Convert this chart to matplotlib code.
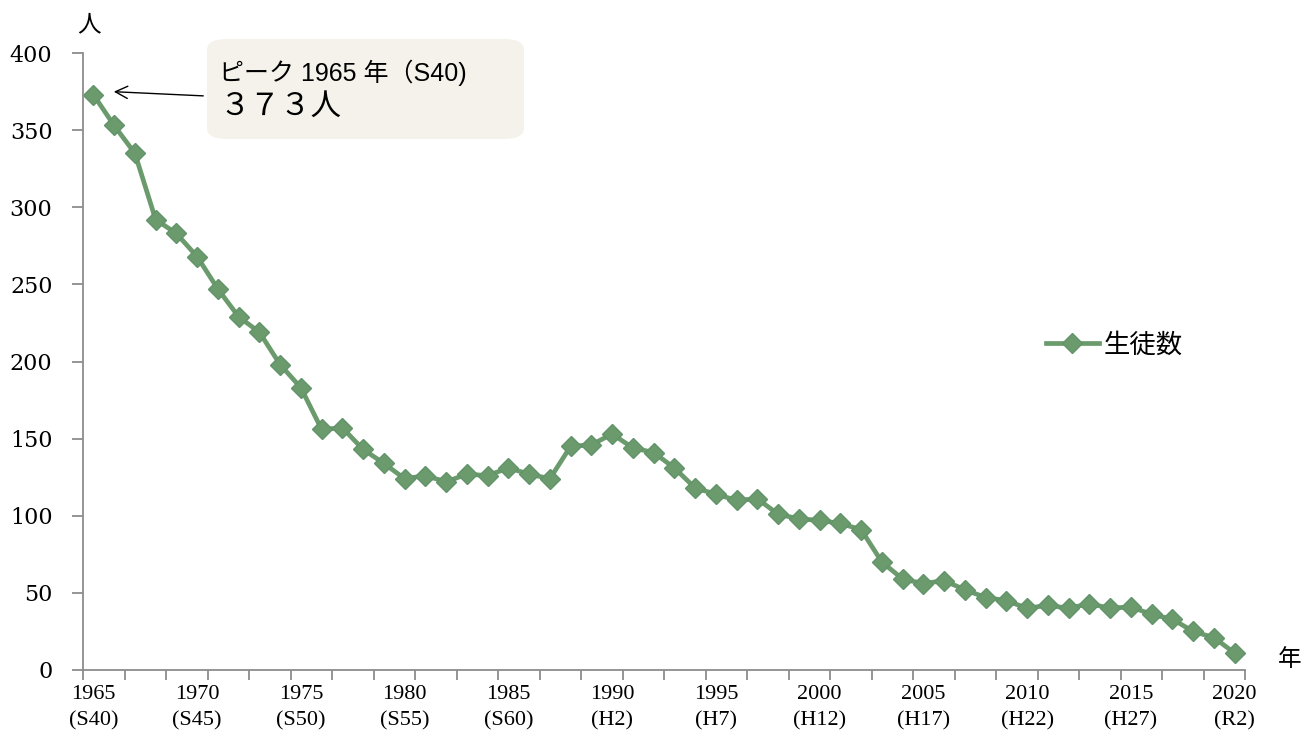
import matplotlib
matplotlib.use("Agg")
import matplotlib.pyplot as plt
from matplotlib.patches import FancyBboxPatch
import numpy as np

plt.rcParams['font.family'] = ['Liberation Sans', 'Noto Sans CJK JP', 'DejaVu Sans']

# students per year, 1965 (S40) .. 2020 (R2)
years = list(range(1965, 2021))
students = [373, 353, 335, 292, 283, 268, 247, 229, 219, 198,
            183, 156, 157, 143, 134, 124, 126, 122, 127, 126,
            131, 127, 124, 145, 146, 153, 144, 141, 131, 118,
            114, 110, 111, 101, 98, 97, 95, 91, 70, 59,
            56, 58, 52, 47, 45, 40, 42, 40, 43, 40,
            41, 36, 33, 25, 21, 11]

label_years = [1965, 1970, 1975, 1980, 1985, 1990, 1995, 2000, 2005, 2010, 2015, 2020]
era_labels = ["S40", "S45", "S50", "S55", "S60", "H2", "H7", "H12", "H17", "H22", "H27", "R2"]

green = "#6b9b6d"
axis_gray = "#8c8c8c"

fig = plt.figure(figsize=(13.04, 7.36), dpi=100)
ax = fig.add_axes([83 / 1304, 1 - 670 / 736, (1245 - 83) / 1304, (670 - 53) / 736])

ax.plot(years, students, color=green, lw=3.4, marker="D", markersize=10,
        markerfacecolor=green, markeredgecolor="#62936a", label="生徒数")

ax.set_xlim(1964.5, 2020.5)
ax.set_ylim(0, 400)

for s in ["top", "right"]:
    ax.spines[s].set_visible(False)
for s in ["left", "bottom"]:
    ax.spines[s].set_color(axis_gray)
    ax.spines[s].set_linewidth(1.3)

ax.set_yticks(np.arange(0, 401, 50))
ax.tick_params(axis="y", direction="out", length=8, width=1.3, color=axis_gray, pad=14)
for t in ax.get_yticklabels():
    t.set_family("DejaVu Serif")
    t.set_fontsize(16)

# tick marks between categories, every 2 years
ax.set_xticks(np.arange(1964.5, 2021, 2), minor=True)
ax.tick_params(axis="x", which="minor", direction="out", length=7, width=1.3, color=axis_gray)
ax.set_xticks(label_years)
ax.set_xticklabels([f"{y}\n({e})" for y, e in zip(label_years, era_labels)],
                   family=["Liberation Serif", "Noto Sans CJK JP"], fontsize=16,
                   linespacing=1.5)
ax.tick_params(axis="x", which="major", length=0, pad=11)

fig.text(89 / 1304, 1 - 25 / 736, "人", fontsize=17, ha="center", va="center",
         family=["Noto Sans CJK JP"])
fig.text(1290 / 1304, 1 - 660 / 736, "年", fontsize=17, ha="center", va="center",
         family=["Noto Sans CJK JP"])

# peak callout
box = FancyBboxPatch((207 / 1304, 1 - 139 / 736), (524 - 207) / 1304, (139 - 39) / 736,
                     boxstyle="round,pad=0,rounding_size=0.015", transform=fig.transFigure,
                     facecolor="#f4f2ea", edgecolor="none", zorder=5)
fig.patches.append(box)
fig.text(219 / 1304, 1 - 73 / 736, "ピーク 1965 年（S40)", fontsize=18, va="center",
         family=["Liberation Sans", "Noto Sans CJK JP"], zorder=6)
fig.text(219 / 1304, 1 - 106 / 736, "３７３人", fontsize=22, va="center",
         family=["Noto Sans CJK JP"], zorder=6)
ax.annotate("", xy=(years[0] + 0.85, students[0] + 2),
            xytext=(206 / 1304, 1 - 96 / 736), textcoords="figure fraction",
            arrowprops=dict(arrowstyle="->", color="black", lw=1.0, mutation_scale=22))

leg = ax.legend(loc="center left", bbox_to_anchor=(1046 / 1304, 1 - 345 / 736),
                bbox_transform=fig.transFigure, frameon=False,
                handlelength=2.0, handletextpad=0.2, borderpad=0, borderaxespad=0,
                prop={"family": ["Noto Sans CJK JP"], "size": 19})

fig.savefig("out.png", dpi=100)
